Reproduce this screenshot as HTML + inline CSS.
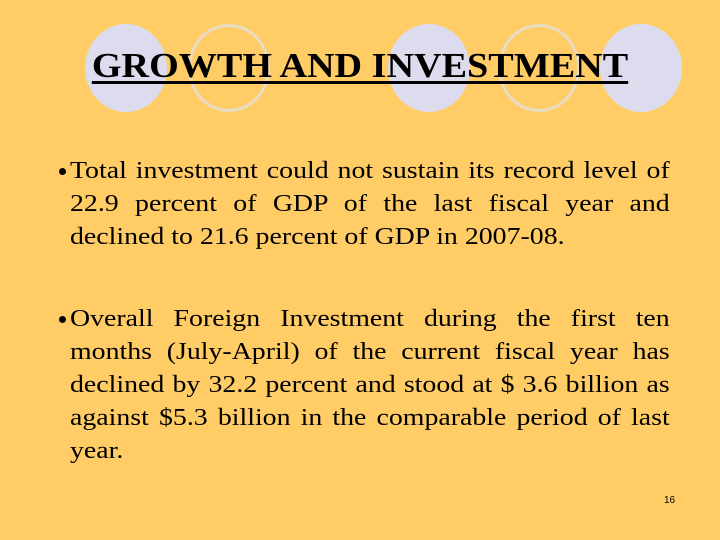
<!DOCTYPE html>
<html><head><meta charset="utf-8"><style>
body{margin:0;width:720px;height:540px;background:#ffcc66;position:relative;overflow:hidden;font-family:"Liberation Serif",serif;}
.c{position:absolute;top:24px;width:82px;height:88px;border-radius:50%;}
.f{background:#dcdcee;}
.r{border:3px solid #e9dcc4;box-sizing:border-box;}
h1{position:absolute;left:0;width:720px;top:46px;margin:0;text-align:center;font-size:35px;font-weight:bold;text-decoration:underline;text-decoration-thickness:3px;text-underline-offset:4px;color:#000;transform:scaleX(1.09);}
.p{position:absolute;left:70px;width:517px;font-size:24px;line-height:33px;color:#000;transform:scaleX(1.16);transform-origin:0 0;}
.p div{text-align:justify;text-align-last:justify;white-space:nowrap;}
.p div.l{text-align-last:left;}
.b{position:absolute;left:59px;width:7px;height:7px;border-radius:50%;background:#000;}
.n{position:absolute;left:664px;top:495px;font-size:10px;font-family:"Liberation Sans",sans-serif;}
</style></head><body>
<div class="c f" style="left:85px"></div>
<div class="c r" style="left:188px"></div>
<div class="c f" style="left:388px"></div>
<div class="c r" style="left:498px"></div>
<div class="c f" style="left:600px"></div>
<h1>GROWTH AND INVESTMENT</h1>
<div class="b" style="top:168px"></div>
<div class="p" style="top:155px">
<div>Total investment could not sustain its record level of</div>
<div>22.9 percent of GDP of the last fiscal year and</div>
<div class="l">declined to 21.6 percent of GDP in 2007-08.</div>
</div>
<div class="b" style="top:316px"></div>
<div class="p" style="top:303px">
<div>Overall Foreign Investment during the first ten</div>
<div>months (July-April) of the current fiscal year has</div>
<div>declined by 32.2 percent and stood at $ 3.6 billion as</div>
<div>against $5.3 billion in the comparable period of last</div>
<div class="l">year.</div>
</div>
<div class="n">16</div>
</body></html>
